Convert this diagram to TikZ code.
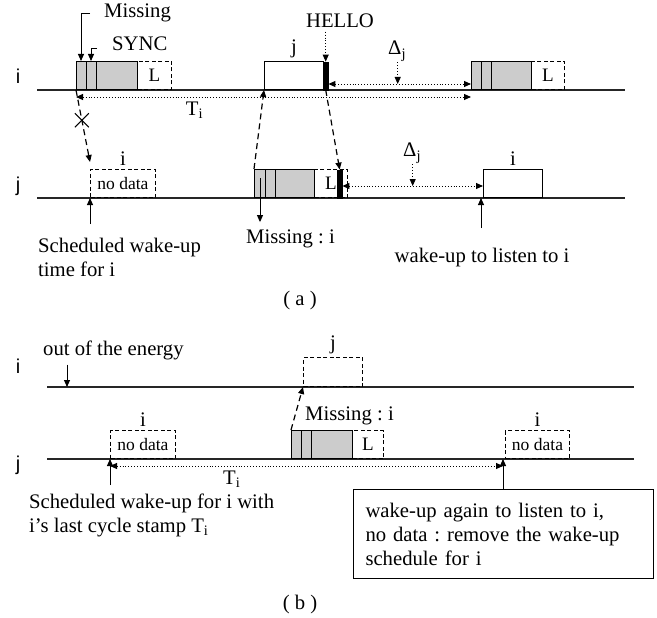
\documentclass[tikz,border=0pt]{standalone}
\usepackage{fontspec}
\setmainfont{Liberation Serif}
\newfontfamily\rowfont{Liberation Sans}
\usepackage{tikz}
\usetikzlibrary{positioning,arrows.meta,shapes.misc}
\frenchspacing

\begin{document}
\begin{tikzpicture}[
  x=1pt, y=-1pt,
  font=\fontsize{20.7}{24}\selectfont,
  txt/.style    ={inner sep=0pt},
  rowlbl/.style ={inner sep=0pt, anchor=base, font=\rowfont\fontsize{20}{22}\selectfont},
  timeline/.style={line width=1.4pt, black!85},
  slot/.style   ={draw, line width=1pt, minimum height=28pt, inner sep=0pt,
                  anchor=south west},
  sendbox/.style={slot, fill=black!20},
  rxbox/.style  ={slot, dash pattern=on 4pt off 2.5pt, font=\fontsize{17.5}{20}\selectfont},
  lbox/.style   ={slot, dash pattern=on 4pt off 2.5pt, font=\fontsize{19}{20}\selectfont},
  hello/.style  ={draw, fill=black, minimum height=28pt, inner sep=0pt,
                  anchor=south west},
  arr/.style    ={-{Triangle[length=7pt,width=6pt]}, line width=0.9pt},
  darr/.style   ={arr, dash pattern=on 6pt off 4pt, line width=1.2pt},
  dotarr/.style ={arr, dotted},
  dotdbl/.style ={{Triangle[length=7pt,width=6pt]}-{Triangle[length=7pt,width=6pt]},
                  dotted, line width=0.9pt},
  crossmark/.style={cross out, draw, solid, line width=1pt, minimum size=13pt,
                  inner sep=0pt}
]
\useasboundingbox (0,0) rectangle (657,618);

% ---------------- (a) ----------------
\node[rowlbl] (rowIa) at (18,84) {i};
\node[rowlbl] (rowJa) at (18,192) {j};
\coordinate (ia0) at (37,90);  \coordinate (ia1) at (625,90);
\coordinate (ja0) at (37,198); \coordinate (ja1) at (625,198);
\draw[timeline] (ia0) -- (ia1);
\draw[timeline] (ja0) -- (ja1);

% node i, first cycle
\node[lbox, minimum width=34pt] (l1) at (137,90) {L};
\node[sendbox, minimum width=61pt] (s1) at (76,90) {};
\draw[line width=1pt] ([xshift=10.5pt]s1.south west) -- ([xshift=10.5pt]s1.north west);
\draw[line width=1pt] ([xshift=20pt]s1.south west) -- ([xshift=20pt]s1.north west);
\node[txt, anchor=base west] (missA) at (104,18) {Missing};
\node[txt, anchor=base west] (syncA) at (112,51) {SYNC};
\draw[arr] ([xshift=-14pt]missA.west) -| ([xshift=5pt]s1.north west);
\draw[arr] ([xshift=-15pt,yshift=-4pt]syncA.west) -| ([xshift=15pt]s1.north west);

% node j listening, HELLO
\node[slot, minimum width=59pt] (jb) at (264,90) {};
\node[above=0pt of jb] (jbl) {j};
\node[hello, minimum width=5pt] (h1) at (323,90) {};
\node[anchor=base] (helloA) at (340,28) {HELLO};
\draw[dotarr] (helloA.south -| h1.north) -- (h1.north);

% node i, next cycle
\node[lbox, minimum width=33pt] (l2) at (531,90) {L};
\node[sendbox, minimum width=60pt] (s2) at (471,90) {};
\draw[line width=1pt] ([xshift=10pt]s2.south west) -- ([xshift=10pt]s2.north west);
\draw[line width=1pt] ([xshift=20pt]s2.south west) -- ([xshift=20pt]s2.north west);

\draw[dotdbl] ([yshift=6pt]h1.south east) -- coordinate[pos=0.486] (dAtip) ([yshift=6pt]s2.south west);
\node[txt, anchor=base west] (dA) at (388,55) {Δ\textsubscript{j}};
\draw[dotarr] ([yshift=-1pt]dA.south -| dAtip) -- (dAtip);
\draw[dotdbl] ([yshift=-7pt]s1.south west) -- node[pos=0.3, below=1pt] (tA) {T\textsubscript{i}} ([yshift=-7pt]s2.south west);

% node j row
\node[rxbox, minimum width=65pt] (nd1) at (90,198) {no data};
\node[above=0pt of nd1] (nd1l) {i};
\draw[darr] (s1.south west) -- node[pos=0.42, crossmark] (xA) {} ([yshift=7pt]nd1.north west);
\draw[arr] ([yshift=-26pt]nd1.south west) -- (nd1.south west);
\node[txt, anchor=north west, align=left] (schedA) at (38,238) {Scheduled wake-up\\time for i};

\node[lbox, minimum width=33pt] (l3) at (314,198) {L};
\node[sendbox, minimum width=60pt] (s3) at (254,198) {};
\draw[line width=1pt] ([xshift=11pt]s3.south west) -- ([xshift=11pt]s3.north west);
\draw[line width=1pt] ([xshift=21pt]s3.south west) -- ([xshift=21pt]s3.north west);
\node[hello, minimum width=5pt] (h2) at (337,198) {};
\draw[darr] (s3.north west) -- (jb.south west);
\draw[darr] (h1.south) -- (h2.north);
\node[txt, anchor=base west] (missJ) at (246,243) {Missing : i};
\draw[arr] ([xshift=6pt,yshift=20pt]s3.south west) -- ([xshift=14pt,yshift=7pt]missJ.north west);

\node[slot, minimum width=59pt] (wb) at (483,198) {};
\node[above=0pt of wb] (wbl) {i};
\draw[dotdbl] ([yshift=12pt]h2.south east) -- coordinate[pos=0.5] (dJtip) ([yshift=12pt]wb.south west);
\node[txt, anchor=base west] (dJ) at (403,157) {Δ\textsubscript{j}};
\draw[dotarr] ([yshift=-1pt]dJ.south -| dJtip) -- (dJtip);
\draw[arr] ([xshift=-2pt,yshift=-30pt]wb.south west) -- ([xshift=-2pt]wb.south west);
\node[txt, anchor=base] (wakeA) at (482,262) {wake-up to listen to i};

\node[anchor=base] (capA) at (300,305) {( a )};

% ---------------- (b) ----------------
\node[rowlbl] (rowIb) at (18,373) {i};
\node[rowlbl] (rowJb) at (18,470) {j};
\coordinate (ib0) at (47,387); \coordinate (ib1) at (634,387);
\coordinate (jb0) at (47,459); \coordinate (jb1) at (634,459);
\draw[timeline] (ib0) -- (ib1);
\draw[timeline] (jb0) -- (jb1);

\node[txt, anchor=base west] (energy) at (43,355) {out of the energy};
\coordinate (offB) at (67,387);
\draw[arr, shorten <=5pt] (energy.south -| offB) -- (offB);

\node[slot, dash pattern=on 4pt off 2.5pt, minimum width=59pt, minimum height=29pt] (dj) at (303,387) {};
\node[above=0pt of dj] (djl) {j};

\node[rxbox, minimum width=65pt] (nd2) at (110,459) {no data};
\node[above=0pt of nd2] (nd2l) {i};
\node[lbox, minimum width=31pt] (l4) at (352,459) {L};
\node[sendbox, minimum width=61pt] (s4) at (291,459) {};
\draw[line width=1pt] ([xshift=10pt]s4.south west) -- ([xshift=10pt]s4.north west);
\draw[line width=1pt] ([xshift=20pt]s4.south west) -- ([xshift=20pt]s4.north west);
\draw[darr] (s4.north west) -- (dj.south west);
\node[txt, anchor=base west] (missB) at (305,420) {Missing : i};

\node[rxbox, minimum width=64pt] (nd3) at (505,459) {no data};
\node[above=0pt of nd3] (nd3l) {i};
\coordinate (wakeB) at ([xshift=-2pt]nd3.south west);

\draw[dotdbl] ([yshift=-7pt]nd2.south west) -- node[pos=0.31, below=1pt] (tB) {T\textsubscript{i}} ([yshift=-7pt]wakeB);
\draw[arr] ([yshift=-26pt]nd2.south west) -- (nd2.south west);
\node[txt, anchor=north west, align=left] (schedB) at (29,494) {Scheduled wake-up for i with\\i’s last cycle stamp T\textsubscript{i}};

\node[draw, line width=1pt, anchor=north west, minimum width=300pt, minimum height=89pt,
      inner xsep=12pt, text width=276pt, align=left] (note) at (353,489)
      {wake-up again to listen to i,\\no data : remove the wake-up\\schedule for i};
\draw[arr] (note.north -| wakeB) -- (wakeB);

\node[anchor=base] (capB) at (300,609) {( b )};
\end{tikzpicture}
\end{document}
